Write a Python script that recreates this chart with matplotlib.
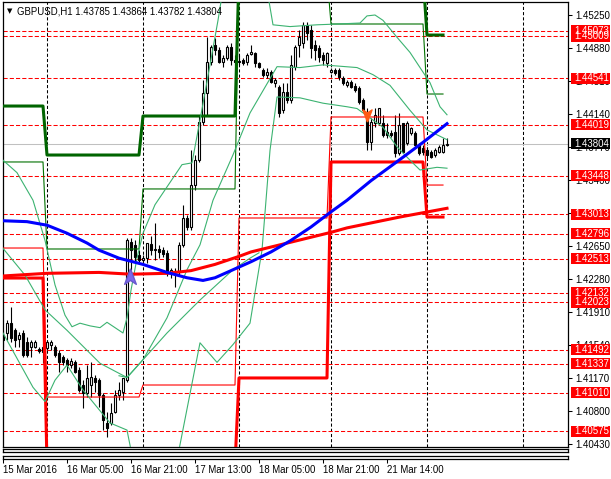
import numpy as np
import matplotlib
matplotlib.use("Agg")
import matplotlib.pyplot as plt
import matplotlib.transforms as mtransforms
from matplotlib.patches import Rectangle
from matplotlib.path import Path

plt.rcParams['font.family'] = ['Liberation Sans', 'DejaVu Sans']

# ---- hourly candles GBPUSD H1 (bar 0 = 15 Mar 13:00) ----
opens = [1.4166, 1.4168, 1.4179, 1.4171, 1.4161, 1.4168, 1.4158, 1.4152, 1.4152, 1.4150,
         1.4147, 1.4151, 1.4155, 1.4152, 1.4146, 1.4141, 1.4138, 1.4132, 1.4135, 1.4126,
         1.4110, 1.4101, 1.4110, 1.4117, 1.4115, 1.4098, 1.4067, 1.4067, 1.4079, 1.4098,
         1.4102, 1.4115, 1.4270, 1.4267, 1.4256, 1.4250, 1.4252, 1.4268, 1.4261, 1.4262,
         1.4261, 1.4258, 1.4235, 1.4238, 1.4236, 1.4267, 1.4297, 1.4287, 1.4334, 1.4362,
         1.4405, 1.4437, 1.4472, 1.4491, 1.4486, 1.4472, 1.4477, 1.4489, 1.4474, 1.4473,
         1.4474, 1.4472, 1.4481, 1.4482, 1.4471, 1.4463, 1.4458, 1.4461, 1.4449, 1.4444,
         1.4418, 1.4439, 1.4430, 1.4467, 1.4491, 1.4494, 1.4514, 1.4508, 1.4491, 1.4488,
         1.4480, 1.4471, 1.4461, 1.4463, 1.4463, 1.4454, 1.4446, 1.4450, 1.4445, 1.4443,
         1.4430, 1.4415, 1.4382, 1.4404, 1.4404, 1.4404, 1.4394, 1.4393, 1.4394, 1.4370,
         1.4404, 1.4381, 1.4393, 1.4393, 1.4379, 1.4376, 1.4373, 1.4371, 1.4368, 1.4371,
         1.4371, 1.43785]
closes = [1.4160, 1.4179, 1.4162, 1.4160, 1.4166, 1.4143, 1.4143, 1.4158, 1.4158, 1.4148,
          1.4152, 1.4158, 1.4158, 1.4143, 1.4135, 1.4135, 1.4132, 1.4137, 1.4124, 1.4104,
          1.4101, 1.4117, 1.4119, 1.4113, 1.4098, 1.4070, 1.4061, 1.4078, 1.4098, 1.4104,
          1.4117, 1.4272, 1.4261, 1.4253, 1.4250, 1.4252, 1.4269, 1.4261, 1.4262, 1.4259,
          1.4257, 1.4235, 1.4239, 1.4236, 1.4267, 1.4297, 1.4287, 1.4334, 1.4362, 1.4405,
          1.4437, 1.4472, 1.4489, 1.4486, 1.4472, 1.4477, 1.4489, 1.4474, 1.4472, 1.4472,
          1.4471, 1.4480, 1.4483, 1.4471, 1.4467, 1.4458, 1.4461, 1.4450, 1.4452, 1.4415,
          1.4439, 1.4430, 1.4469, 1.4489, 1.4500, 1.4514, 1.4505, 1.4488, 1.4486, 1.4478,
          1.4474, 1.4482, 1.4463, 1.4460, 1.4455, 1.4449, 1.4450, 1.4444, 1.4441, 1.4427,
          1.4418, 1.4382, 1.4405, 1.4413, 1.4421, 1.4390, 1.4390, 1.4390, 1.4370, 1.4401,
          1.4371, 1.4404, 1.4398, 1.4379, 1.4370, 1.4371, 1.4368, 1.4366, 1.4373, 1.4377,
          1.4379, 1.43804]
highs = [1.4171, 1.4183, 1.4197, 1.4174, 1.4169, 1.4171, 1.4164, 1.4160, 1.4160, 1.4152,
         1.4157, 1.4160, 1.4160, 1.4155, 1.4149, 1.4143, 1.4140, 1.4140, 1.4138, 1.4130,
         1.4115, 1.4132, 1.4135, 1.4121, 1.4117, 1.4101, 1.4079, 1.4089, 1.4104, 1.4113,
         1.4117, 1.4275, 1.4275, 1.4272, 1.4261, 1.4256, 1.4269, 1.4277, 1.4291, 1.4267,
         1.4264, 1.4261, 1.4241, 1.4241, 1.4270, 1.4312, 1.4300, 1.4373, 1.4368, 1.4413,
         1.4452, 1.4500, 1.4491, 1.4499, 1.4489, 1.4480, 1.4491, 1.4494, 1.4480, 1.4480,
         1.4477, 1.4482, 1.4491, 1.4483, 1.4472, 1.4466, 1.4466, 1.4463, 1.4454, 1.4446,
         1.4449, 1.4449, 1.4480, 1.4491, 1.4508, 1.4517, 1.4517, 1.4514, 1.4497, 1.4491,
         1.4483, 1.4483, 1.4466, 1.4466, 1.4466, 1.4457, 1.4452, 1.4452, 1.4449, 1.4445,
         1.4432, 1.4421, 1.4409, 1.4421, 1.4421, 1.4413, 1.4404, 1.4396, 1.4413, 1.4415,
         1.4404, 1.4406, 1.4399, 1.4395, 1.4381, 1.4379, 1.4377, 1.4373, 1.4376, 1.4379,
         1.4387, 1.43864]
lows = [1.4152, 1.4160, 1.4158, 1.4152, 1.4152, 1.4141, 1.4141, 1.4141, 1.4151, 1.4146,
        1.4134, 1.4149, 1.4149, 1.4141, 1.4124, 1.4132, 1.4124, 1.4129, 1.4123, 1.4102,
        1.4084, 1.4096, 1.4096, 1.4102, 1.4085, 1.4059, 1.4051, 1.4065, 1.4078, 1.4093,
        1.4093, 1.4113, 1.4239, 1.4248, 1.4248, 1.4248, 1.4247, 1.4256, 1.4250, 1.4252,
        1.4253, 1.4232, 1.4230, 1.4220, 1.4233, 1.4265, 1.4284, 1.4284, 1.4329, 1.4360,
        1.4401, 1.4413, 1.4469, 1.4480, 1.4471, 1.4467, 1.4474, 1.4469, 1.4469, 1.4469,
        1.4469, 1.4469, 1.4480, 1.4467, 1.4466, 1.4455, 1.4454, 1.4449, 1.4444, 1.4410,
        1.4415, 1.4426, 1.4426, 1.4463, 1.4478, 1.4488, 1.4497, 1.4477, 1.4474, 1.4472,
        1.4469, 1.4467, 1.4460, 1.4458, 1.4452, 1.4446, 1.4444, 1.4443, 1.4438, 1.4425,
        1.4416, 1.4373, 1.4373, 1.4399, 1.4401, 1.4388, 1.4387, 1.4388, 1.4366, 1.4368,
        1.4370, 1.4379, 1.4390, 1.4377, 1.4368, 1.4368, 1.4364, 1.4364, 1.4366, 1.4370,
        1.4370, 1.43782]

# ---- moving averages (read at sample bars) ----
ma_blue_bars = [0, 6, 11, 16, 21, 24, 29, 35, 41, 46, 50, 53, 57, 62, 67, 72, 77, 82, 86, 92, 99, 105, 111]
ma_blue = [1.4294, 1.4293, 1.4289, 1.4280, 1.4269, 1.4261, 1.4252, 1.4245, 1.4236, 1.4230, 1.4227, 1.4230,
           1.4238, 1.4248, 1.4259, 1.4272, 1.4287, 1.4304, 1.4317, 1.4339, 1.4362, 1.4382, 1.4403]
ma_red_bars = [0, 11, 24, 32, 41, 47, 53, 59, 62, 72, 82, 86, 99, 111]
ma_red = [1.4232, 1.4235, 1.4236, 1.4234, 1.4235, 1.4238, 1.4245, 1.4254, 1.4259, 1.4270, 1.4281, 1.4286,
          1.4298, 1.4308]

# ---- bands ----
bb_up_bars = [0, 3.5, 7.5, 10.5, 13, 15.5, 17.25, 19.25, 21.75, 24.25, 26, 28, 30, 31, 32, 33.5, 35, 38, 41,
              44.75, 47.25, 49.25, 51.75, 53.75, 54.75, 66.25, 67.5, 71.75, 78.5, 84.25, 89.25, 91, 93, 95,
              98.5, 101.75, 104.25, 106.75, 109.25, 111]
bb_up = [1.4362, 1.4348, 1.4317, 1.4272, 1.4222, 1.4188, 1.4175, 1.4179, 1.4176, 1.4174, 1.4180, 1.4174,
         1.4168, 1.4185, 1.4216, 1.4252, 1.4280, 1.4312, 1.4332, 1.4357, 1.4359, 1.4407, 1.4469, 1.4519,
         1.4547, 1.4547, 1.4514, 1.4512, 1.4514, 1.4515, 1.4516, 1.4524, 1.4525, 1.4519, 1.4500, 1.4483,
         1.4466, 1.4449, 1.4422, 1.4413]
bb_mid_bars = [0, 5.5, 10.5, 16, 24.25, 31, 35, 41, 46, 49.25, 52.5, 57.5, 61.75, 68.5, 74.25, 80, 88.5,
               92.5, 96.75, 101.75, 106, 111]
bb_mid = [1.4263, 1.4233, 1.4194, 1.4171, 1.4134, 1.4118, 1.4138, 1.4185, 1.4239, 1.4267, 1.4317, 1.4368,
          1.4415, 1.4467, 1.4466, 1.4469, 1.4466, 1.4458, 1.4446, 1.4418, 1.4396, 1.4385]
bb_low_bars = [0, 7.5, 10.5, 13, 16, 20, 26.75, 31, 33, 43, 49.25, 53.5, 57.5, 61.75, 64.75, 66.75, 68.5,
               74.25, 80, 86, 88.5, 95, 98.5, 101.75, 104.25, 108.5, 111]
bb_low = [1.4168, 1.4107, 1.4091, 1.4115, 1.4132, 1.4104, 1.4067, 1.4059, 1.4014, 1.4014, 1.4157, 1.4135,
          1.4155, 1.4179, 1.4261, 1.4373, 1.4433, 1.4432, 1.4426, 1.4422, 1.4420, 1.4399, 1.4377, 1.4362,
          1.4351, 1.4354, 1.4353]
slow_bars = [29, 31, 35, 41, 49.25, 57.5, 61.75, 64]
slow_line = [1.4120, 1.4118, 1.4138, 1.4168, 1.4205, 1.4239, 1.4252, 1.4258]

# ---- daily levels (one value per trading day) ----
day_bars = [11, 24, 24, 23, 24, 5]
lvl_green_thick = [1.44228, 1.43678, 1.44116, 1.4570, 1.4570, 1.45025]
lvl_green_thin = [1.43600, 1.42623, 1.43297, 1.4570, 1.45149, 1.44363]
lvl_red_thick = [1.42297, 1.4020, 1.4020, 1.41175, 1.43600, 1.42982]
lvl_red_thin = [1.42634, 1.40961, 1.41096, 1.42971, 1.44105, 1.43341]

levels = [1.45073, 1.45009, 1.44541, 1.44019, 1.43448, 1.43013, 1.42796, 1.42513,
          1.42132, 1.42023, 1.41492, 1.41337, 1.41010, 1.40575]
last_price = 1.43804

price_ticks = [1.45250, 1.44879, 1.44508, 1.44137, 1.43767, 1.43396, 1.43025,
               1.42654, 1.42283, 1.41913, 1.41542, 1.41171, 1.40801, 1.40430]
price_labels = ["1.45250", "1.44880", "1.44510", "1.44140", "1.43770", "1.43400", "1.43030",
                "1.42650", "1.42280", "1.41910", "1.41540", "1.41170", "1.40800", "1.40430"]
time_ticks = [0, 16, 32, 48, 64, 80, 96]
time_labels = ["15 Mar 2016", "16 Mar 05:00", "16 Mar 21:00", "17 Mar 13:00",
               "18 Mar 05:00", "18 Mar 21:00", "21 Mar 14:00"]
day_grid = [11, 35, 59, 82, 106, 130]

buy_arrow = (31.75, 1.4230)
sell_arrow = (91, 1.4414)

W, H = 611, 479
fig = plt.figure(figsize=(W / 100, H / 100), dpi=100)
ax = fig.add_axes([2.5 / W, 1 - 447 / H, 565.5 / W, 445 / H])
ax.set_xlim(-0.125, 141.25)
ax.set_ylim(1.40400, 1.45396)

for d in day_grid:
    ax.axvline(d, color='black', lw=0.75, dashes=(3, 2), zorder=1)
for lv in levels:
    ax.axhline(lv, color='red', lw=0.75, dashes=(4, 2), zorder=1)
ax.axhline(last_price, color='#c0c0c0', lw=0.75, zorder=1)

# candles
x = np.arange(len(closes))
o = np.array(opens); c = np.array(closes)
ax.vlines(x, lows, highs, color='black', lw=0.8, zorder=2)
fill = np.where(c >= o, 'white', 'black')
ax.bar(x, np.abs(c - o), bottom=np.minimum(o, c), width=0.6, color=fill,
       edgecolor='black', linewidth=0.8, zorder=3)

# daily level lines
xd = np.arange(sum(day_bars))
ax.plot(xd, np.repeat(lvl_green_thin, day_bars), color='#007000', lw=0.8, zorder=4)
ax.plot(xd, np.repeat(lvl_red_thin, day_bars), color='red', lw=0.8, zorder=4)
ax.plot(xd, np.repeat(lvl_green_thick, day_bars), color='#006400', lw=2.2, zorder=4)
ax.plot(xd, np.repeat(lvl_red_thick, day_bars), color='red', lw=2.2, zorder=4)

# bands
green = '#3cb371'
ax.plot(bb_up_bars, bb_up, color=green, lw=0.8, zorder=4)
ax.plot(bb_mid_bars, bb_mid, color=green, lw=0.8, zorder=4)
ax.plot(bb_low_bars, bb_low, color=green, lw=0.8, zorder=4)
ax.plot(slow_bars, slow_line, color=green, lw=0.8, zorder=4)

# moving averages
ax.plot(ma_red_bars, ma_red, color='red', lw=2.2, zorder=5)
ax.plot(ma_blue_bars, ma_blue, color='blue', lw=2.2, zorder=5)

# arrows
up = Path([(0, 1), (-0.6, -0.6), (0, -0.2), (0.6, -0.6), (0, 1)])
dn = Path([(0, -1), (-0.6, 0.6), (0, 0.2), (0.6, 0.6), (0, -1)])
ax.plot(*buy_arrow, marker=up, ms=14, color='#7b68ee', mec='#6a5acd', zorder=6)
ax.plot(*sell_arrow, marker=dn, ms=11, color='#ff5a14', mec='#ff5a14', zorder=6)

# axes styling
for s in ax.spines.values():
    s.set_linewidth(0.9)
ax.set_xticks([])
ax.yaxis.tick_right()
ax.set_yticks(price_ticks, price_labels)
ax.tick_params(axis='y', direction='out', length=3, width=0.75, labelsize=7, pad=2)

# right-hand price boxes
trans = mtransforms.blended_transform_factory(ax.transAxes, ax.transData)
bx0 = (571 - 2.5) / 565.5
bw = 39 / 565.5
hh = 5.5 / 8907
for lv in levels:
    ax.add_patch(Rectangle((bx0, lv - hh), bw, 2 * hh, transform=trans, fc='red', ec='none',
                           clip_on=False, zorder=7))
    ax.text(bx0 + 3 / 565.5, lv, f"{lv:.5f}", transform=trans, color='white', fontsize=7,
            va='center', ha='left', clip_on=False, zorder=8)
ax.add_patch(Rectangle((bx0, last_price - hh), bw, 2 * hh, transform=trans, fc='black', ec='none',
                       clip_on=False, zorder=7))
ax.text(bx0 + 3 / 565.5, last_price, f"{last_price:.5f}", transform=trans, color='white',
        fontsize=7, va='center', ha='left', clip_on=False, zorder=8)

# empty sub-windows and time axis
sub1 = fig.add_axes([2.5 / W, 1 - 452 / H, 565.5 / W, 3 / H])
sub2 = fig.add_axes([2.5 / W, 1 - 459 / H, 565.5 / W, 3 / H])
for sa in (sub1, sub2):
    sa.set_xlim(ax.get_xlim())
    sa.set_yticks([])
    for s in sa.spines.values():
        s.set_linewidth(0.9)
sub1.set_xticks([])
sub2.set_xticks(time_ticks, time_labels)
sub2.tick_params(axis='x', direction='out', length=3, width=0.75, labelsize=6.9, pad=1.5)
for lab in sub2.get_xticklabels():
    lab.set_ha('left')

fig.text(7 / W, 1 - 11 / H, "\u25bc", fontsize=5, va='center', ha='left', family='DejaVu Sans')
fig.text(17 / W, 1 - 11 / H, "GBPUSD,H1 1.43785 1.43864 1.43782 1.43804", fontsize=6.9,
         va='center', ha='left')

fig.savefig("out.png", dpi=100)
